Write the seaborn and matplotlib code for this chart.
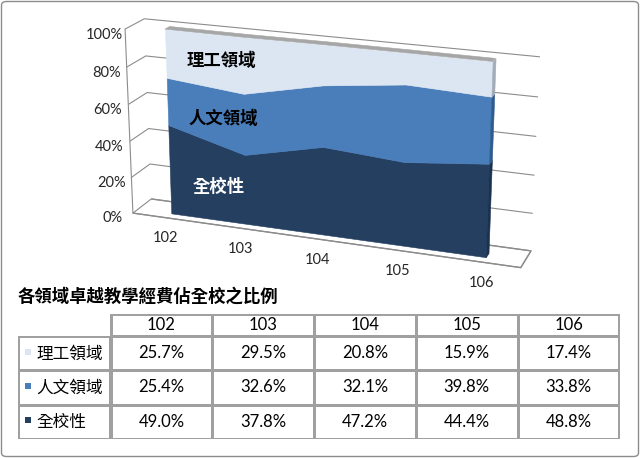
import numpy as np
import matplotlib
matplotlib.use("Agg")
import matplotlib.pyplot as plt
import seaborn as sns
from matplotlib.colors import ListedColormap
from matplotlib.patches import FancyBboxPatch, Rectangle
from mpl_toolkits.mplot3d.art3d import Poly3DCollection

# ---------------- data ----------------
years = ["102", "103", "104", "105", "106"]
series_names = ["理工領域", "人文領域", "全校性"]
science = [25.7, 29.5, 20.8, 15.9, 17.4]
humanities = [25.4, 32.6, 32.1, 39.8, 33.8]
campus = [49.0, 37.8, 47.2, 44.4, 48.8]
title = "各領域卓越教學經費佔全校之比例"
z_ticks = [0, 20, 40, 60, 80, 100]

# ---------------- style ----------------
sns.set_theme(style="white")
plt.rcParams["font.family"] = ["Lato", "Noto Sans CJK TC", "DejaVu Sans"]

col_front = {"理工領域": "#dce6f2", "人文領域": "#4a7ebb", "全校性": "#243f60"}
col_side = {"理工領域": "#a3acb6", "人文領域": "#2f5b8f", "全校性": "#1b3150"}
col_top = "#a6a6a6"
grid_col = "#8c8c8c"

W, H = 640, 458
fig = plt.figure(figsize=(6.4, 4.58), dpi=100)
fig.patch.set_facecolor("white")

def rect(x0, y0, x1, y1):
    return [x0 / W, 1 - y1 / H, (x1 - x0) / W, (y1 - y0) / H]

# ---------------- 3D area chart ----------------
ax = fig.add_axes(rect(6, -80, 634, 370), projection="3d", computed_zorder=False)
ax.set_proj_type("persp", focal_length=0.65)
ax.view_init(elev=19, azim=-70)
ax.set_box_aspect((4.75, 0.5, 2.28), zoom=1.0)

x = np.arange(len(years))
lower_c = np.zeros(len(x))
upper_c = np.array(campus)
lower_h = upper_c
upper_h = upper_c + np.array(humanities)
lower_s = upper_h
upper_s = upper_h + np.array(science)
bands = [("全校性", lower_c, upper_c), ("人文領域", lower_h, upper_h), ("理工領域", lower_s, upper_s)]

y0, y1 = 0.3, 0.55
for name, lo, up in bands:
    front = [(xi, y0, zi) for xi, zi in zip(x, lo)] + [(xi, y0, zi) for xi, zi in zip(x[::-1], up[::-1])]
    pc = Poly3DCollection([front], facecolors=col_front[name], edgecolors=col_front[name], linewidths=0.4)
    ax.add_collection3d(pc)
    cap = [(x[-1], y0, lo[-1]), (x[-1], y1, lo[-1]), (x[-1], y1, up[-1]), (x[-1], y0, up[-1])]
    pc = Poly3DCollection([cap], facecolors=col_side[name], edgecolors=col_side[name], linewidths=0.4)
    ax.add_collection3d(pc)
# top surface of the top band
name, lo, up = bands[-1]
tops = []
for i in range(len(x) - 1):
    tops.append([(x[i], y0, up[i]), (x[i + 1], y0, up[i + 1]), (x[i + 1], y1, up[i + 1]), (x[i], y1, up[i])])
ax.add_collection3d(Poly3DCollection(tops, facecolors=col_top, edgecolors=col_top, linewidths=0.4))

# labels inside bands
ax.text(0.27, y0, 85, "理工領域", color="black", fontsize=12.5, fontweight="bold", ha="left", va="center")
ax.text(0.27, y0, 54, "人文領域", color="black", fontsize=12.5, fontweight="bold", ha="left", va="center")
ax.text(0.3, y0, 17, "全校性", color="white", fontsize=12.5, fontweight="bold", ha="left", va="center")

ax.set_xlim(-0.45, 4.45)
ax.set_ylim(0, 1)
ax.set_zlim(0, 100)
ax.set_xticks(x)
ax.set_xticklabels(years, fontsize=10.5)
ax.set_yticks([])
ax.set_zticks(z_ticks)
ax.set_zticklabels([f"{t}%" for t in z_ticks], fontsize=10.5)
ax.zaxis.set_ticks_position("lower")
ax.tick_params(axis="z", pad=1)

for axis in (ax.xaxis, ax.yaxis, ax.zaxis):
    axis.set_pane_color((1, 1, 1, 1))
    axis.line.set_color(grid_col)
    axis.line.set_linewidth(0.8)
    axis._axinfo["tick"]["inward_factor"] = 0
    axis._axinfo["tick"]["outward_factor"] = 0
    axis.offsetText.set_visible(False)
    axis.label.set_visible(False)
ax.xaxis.pane.set_edgecolor("white")
ax.yaxis.pane.set_edgecolor("white")
ax.zaxis.pane.set_edgecolor(grid_col)
ax.xaxis._axinfo["grid"]["color"] = (1, 1, 1, 0)
ax.yaxis._axinfo["grid"]["color"] = (1, 1, 1, 0)
ax.zaxis._axinfo["grid"]["color"] = grid_col
ax.zaxis._axinfo["grid"]["linewidth"] = 0.8
ax.grid(True)

# ---------------- title ----------------
fig.text(18 / W, 1 - 296 / H, title, fontsize=12.5, fontweight="bold", ha="left", va="center",
         color="black")

# ---------------- table ----------------
line_col = "#a0a0a0"
white = ListedColormap(["white"])

# header row
axh = fig.add_axes(rect(110, 314, 620, 336))
sns.heatmap(np.zeros((1, len(years))), cmap=white, cbar=False, linewidths=1, linecolor=line_col,
            annot=np.array([years]), fmt="", annot_kws={"fontsize": 12, "color": "black"},
            xticklabels=False, yticklabels=False, ax=axh)

# body rows
values = [science, humanities, campus]
ann = np.array([[f"{v:.1f}%" for v in row] for row in values])
axb = fig.add_axes(rect(110, 336, 620, 439))
sns.heatmap(np.zeros((3, len(years))), cmap=white, cbar=False, linewidths=1, linecolor=line_col,
            annot=ann, fmt="", annot_kws={"fontsize": 12, "color": "black"},
            xticklabels=False, yticklabels=False, ax=axb)

# row label column
axl = fig.add_axes(rect(18, 336, 110, 439))
sns.heatmap(np.zeros((3, 1)), cmap=white, cbar=False, linewidths=1, linecolor=line_col,
            annot=False, xticklabels=False, yticklabels=False, ax=axl)
for i, name in enumerate(series_names):
    axl.add_patch(Rectangle((0.075, i + 0.36), 0.068, 0.19, facecolor=col_front[name], edgecolor="none"))
    axl.text(0.2, i + 0.5, name, fontsize=12, ha="left", va="center", color="black")

for a in (axh, axb, axl):
    a.set_xlim(a.get_xlim()[0] - 0.005, a.get_xlim()[1] + 0.005)
    lo_, hi_ = a.get_ylim()
    a.set_ylim(lo_ + 0.01, hi_ - 0.01)
    for s in a.spines.values():
        s.set_visible(False)

# figure border
fig.add_artist(FancyBboxPatch((1.5 / W, 1.5 / H), (W - 3) / W, (H - 3) / H,
                              boxstyle="round,pad=0,rounding_size=0.008", transform=fig.transFigure,
                              facecolor="none", edgecolor="#8c8c8c", linewidth=1))

fig.savefig("out.png", dpi=100)
